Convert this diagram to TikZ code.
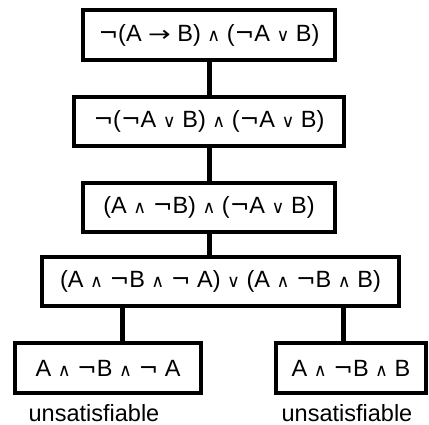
\documentclass[tikz,border=0pt]{standalone}
\usepackage{fontspec}
\setmainfont{Liberation Sans}
\newfontfamily\symfont{DejaVu Sans}
\newcommand{\myand}{{\symfont\scalebox{0.75}{∧}}}
\newcommand{\myor}{{\symfont\scalebox{0.75}{∨}}}
\newcommand{\myto}{{\symfont\scalebox{1.15}[0.9]{→}}}
\newcommand{\myneg}{{\symfont ¬}}
\begin{document}
\begin{tikzpicture}[x=1pt,y=1pt,
  fbox/.style={draw=black, line width=3.2pt, inner sep=0pt, font=\fontsize{23.5}{28}\selectfont, anchor=center},
  conn/.style={line width=5pt},
  lbl/.style={font=\fontsize{23.5}{28}\selectfont, inner sep=0pt}]
\useasboundingbox (0,0) rectangle (429,-425);
\node[fbox, minimum width=252pt, minimum height=50pt] (b1) at (209,-35) {\myneg(A \myto{} B) \myand{} (\myneg A \myor{} B)};
\node[fbox, minimum width=270pt, minimum height=49pt] (b2) at (209,-121.5) {\myneg(\myneg A \myor{} B) \myand{} (\myneg A \myor{} B)};
\node[fbox, minimum width=252pt, minimum height=49pt] (b3) at (209,-207.5) {(A \myand{} \myneg B) \myand{} (\myneg A \myor{} B)};
\node[fbox, minimum width=357pt, minimum height=49pt] (b4) at (220.5,-281.5) {(A \myand{} \myneg B \myand{} \myneg{} A) \myor{} (A \myand{} \myneg B \myand{} B)};
\node[fbox, minimum width=186pt, minimum height=50pt] (b5) at (108,-368) {A \myand{} \myneg B \myand{} \myneg{} A};
\node[fbox, minimum width=150pt, minimum height=50pt] (b6) at (351,-368) {A \myand{} \myneg B \myand{} B};
\node[lbl] (u1) at (94,-413) {unsatisfiable};
\node[lbl] (u2) at (347,-413) {unsatisfiable};
\draw[conn] (b1.south) -- (b2.north);
\draw[conn] (b2.south) -- (b3.north);
\draw[conn] (b3.south) -- (b3.south |- b4.north);
\draw[conn] ([xshift=14pt]b5.north) -- ([xshift=14pt]b5.north |- b4.south);
\draw[conn] ([xshift=-8pt]b6.north) -- ([xshift=-8pt]b6.north |- b4.south);
\end{tikzpicture}
\end{document}
